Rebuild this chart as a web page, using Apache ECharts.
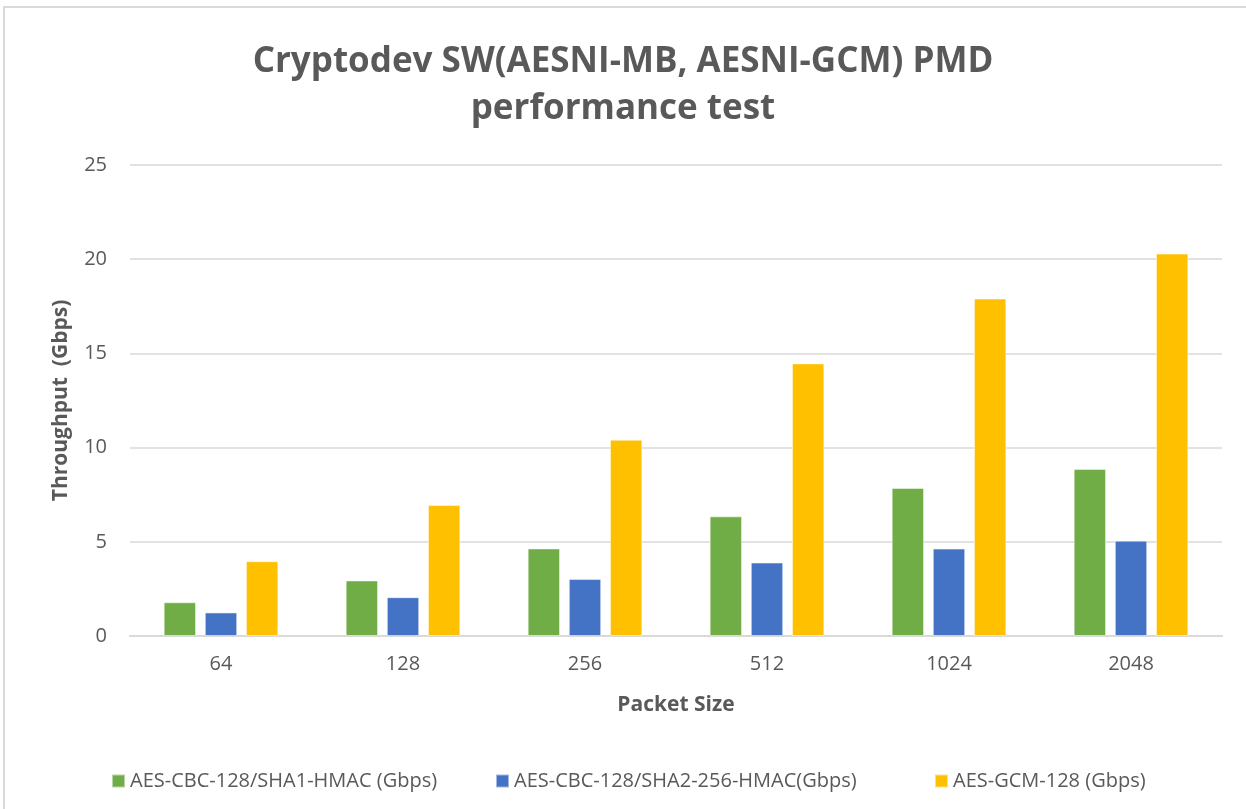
<!DOCTYPE html>
<html><head><meta charset="utf-8">
<script src="https://cdn.jsdelivr.net/npm/echarts@6/dist/echarts.min.js"></script>
<style>html,body{margin:0;padding:0;background:#fff}#c{width:1246px;height:809px}</style>
</head><body><div id="c"></div>
<script>
const categories = ['64','128','256','512','1024','2048'];
const seriesNames = ['AES-CBC-128/SHA1-HMAC (Gbps)','AES-CBC-128/SHA2-256-HMAC(Gbps)','AES-GCM-128 (Gbps)'];
const sha1Values = [1.79, 2.95, 4.65, 6.35, 7.86, 8.87];
const sha256Values = [1.25, 2.06, 3.03, 3.90, 4.64, 5.06];
const gcmValues = [3.97, 6.95, 10.42, 14.47, 17.91, 20.30];
const colors = ['#70AD47','#4472C4','#FFC000'];
const font = 'Open Sans, Noto Sans, sans-serif';

const chart = echarts.init(document.getElementById('c'));
const mk = (name, data, color) => ({
  name, type:'bar', data, barGap:'27%', barCategoryGap:'37%',
  itemStyle:{color, borderColor:'rgba(255,255,255,0.5)', borderWidth:1}
});
const legendLefts = [106, 490, 929];
const legends = seriesNames.map((n, i) => ({
  data:[n], left:legendLefts[i], top:766, itemWidth:13, itemHeight:13, icon:'rect',
  textStyle:{fontSize:20, color:'#595959', fontFamily:font}
}));
chart.setOption({
  animation:false,
  textStyle:{fontFamily:font},
  graphic:[{type:'rect', shape:{x:4,y:7,width:1250,height:820}, style:{fill:'none', stroke:'#d9d9d9', lineWidth:2}, silent:true}],
  title:{text:'Cryptodev SW(AESNI-MB, AESNI-GCM) PMD\nperformance test', left:'center', top:34,
    textStyle:{fontSize:35, fontWeight:'bold', color:'#595959', fontFamily:font, lineHeight:47}},
  legend:legends,
  grid:{left:130, right:24, top:165, bottom:173},
  xAxis:{type:'category', data:categories, name:'Packet Size', nameLocation:'middle', nameGap:59,
    nameTextStyle:{fontSize:21, fontWeight:'bold', color:'#595959'},
    axisLine:{lineStyle:{color:'#d9d9d9', width:2}}, axisTick:{show:false},
    axisLabel:{fontSize:20, color:'#595959', margin:18}},
  yAxis:{type:'value', min:0, max:25, interval:5, name:'Throughput  (Gbps)', nameLocation:'middle', nameGap:58,
    nameTextStyle:{fontSize:21, fontWeight:'bold', color:'#595959'},
    axisLine:{show:false}, axisTick:{show:false},
    axisLabel:{fontSize:20, color:'#595959', margin:23},
    splitLine:{lineStyle:{color:'#d9d9d9', width:1.5}}},
  series:[mk(seriesNames[0], sha1Values, colors[0]), mk(seriesNames[1], sha256Values, colors[1]), mk(seriesNames[2], gcmValues, colors[2])]
});
</script></body></html>
